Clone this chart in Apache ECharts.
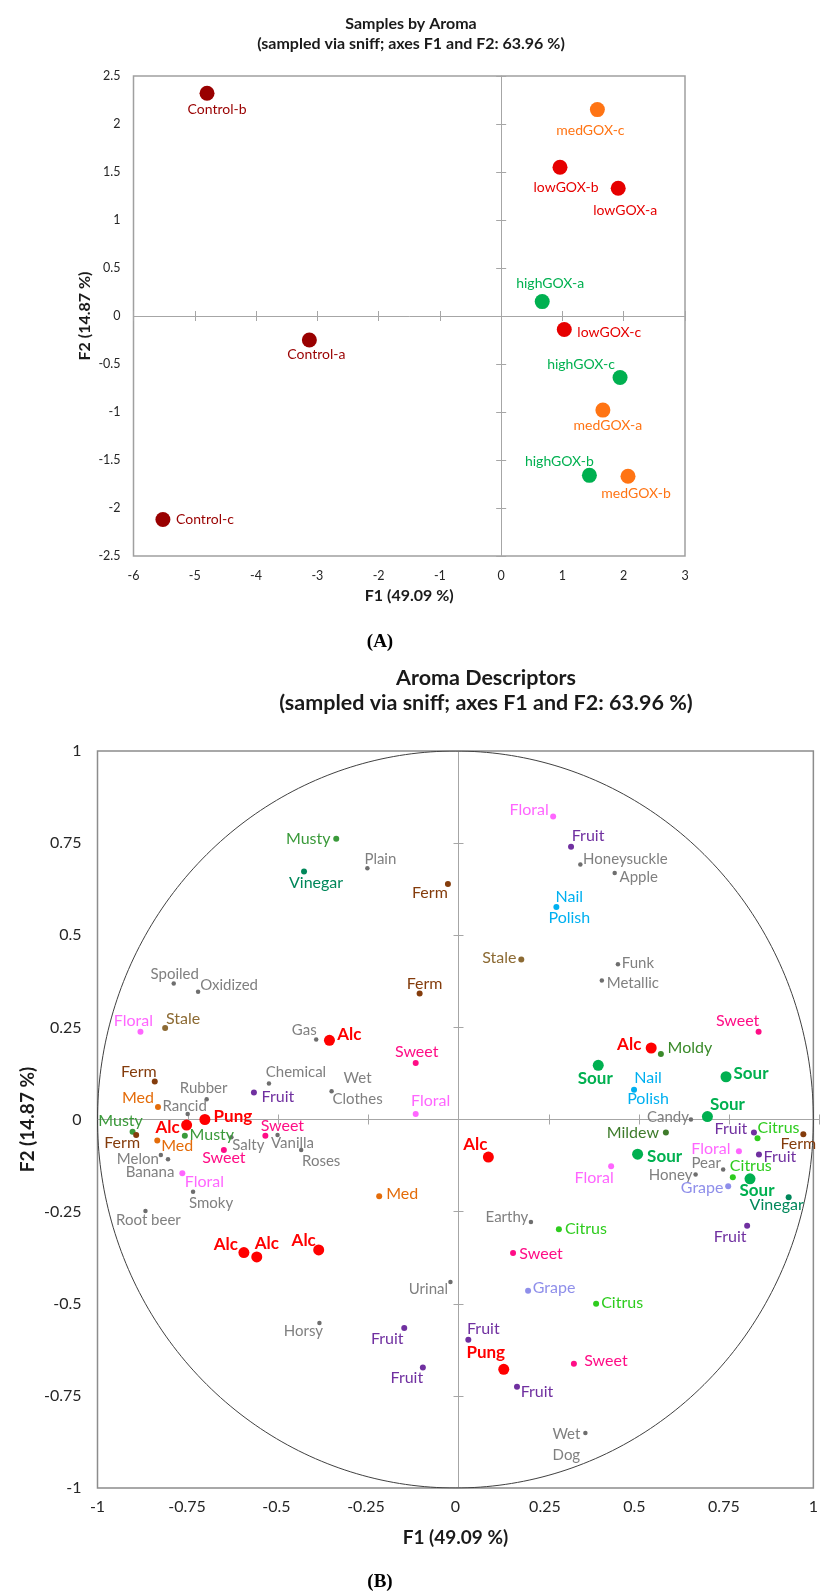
<!DOCTYPE html>
<html>
<head>
<meta charset="utf-8">
<title>Samples by Aroma / Aroma Descriptors</title>
<script src="https://cdn.jsdelivr.net/npm/echarts@6/dist/echarts.min.js"></script>
<style>
html, body { margin: 0; padding: 0; background: #fff; }
#chart { width: 821px; height: 1593px; }
</style>
</head>
<body>
<div id="chart"></div>
<script>
// ---------- (A) samples by aroma ----------
const sampleNames = ['Control-a', 'Control-b', 'Control-c', 'lowGOX-a', 'lowGOX-b', 'lowGOX-c',
    'medGOX-a', 'medGOX-b', 'medGOX-c', 'highGOX-a', 'highGOX-b', 'highGOX-c'];
const sampleF1 = [-3.13, -4.80, -5.52, 1.91, 0.96, 1.03, 1.66, 2.07, 1.57, 0.67, 1.44, 1.94];
const sampleF2 = [-0.25, 2.32, -2.12, 1.33, 1.55, -0.14, -0.98, -1.67, 2.15, 0.15, -1.66, -0.64];
const ticksA_F1 = [-6, -5, -4, -3, -2, -1, 0, 1, 2, 3];
const ticksA_F2 = [-2.5, -2, -1.5, -1, -0.5, 0, 0.5, 1, 1.5, 2, 2.5];

// ---------- (B) aroma descriptors ----------
const descNames = ['Musty', 'Plain', 'Vinegar', 'Ferm', 'Spoiled', 'Oxidized', 'Ferm', 'Floral', 'Stale', 'Gas', 'Alc',
    'Floral', 'Fruit', 'Honeysuckle', 'Apple', 'Nail Polish', 'Stale', 'Funk', 'Metallic', 'Sweet', 'Alc', 'Moldy',
    'Sweet', 'Ferm', 'Chemical', 'Wet Clothes', 'Rubber', 'Fruit', 'Med', 'Rancid', 'Floral', 'Pung', 'Alc', 'Musty',
    'Ferm', 'Musty', 'Sweet', 'Vanilla', 'Salty', 'Med', 'Roses', 'Sweet', 'Melon', 'Banana', 'Floral', 'Smoky', 'Med',
    'Root beer', 'Alc', 'Alc', 'Alc', 'Urinal',
    'Sour', 'Nail Polish', 'Sour', 'Sour', 'Candy', 'Mildew', 'Fruit', 'Citrus', 'Ferm', 'Alc', 'Sour', 'Floral', 'Fruit',
    'Floral', 'Pear', 'Citrus', 'Sour', 'Honey', 'Grape', 'Vinegar', 'Fruit', 'Earthy', 'Citrus', 'Sweet', 'Grape',
    'Citrus', 'Horsy', 'Fruit', 'Fruit', 'Pung', 'Sweet', 'Fruit', 'Fruit', 'Wet Dog'];
const descF1 = [-0.333, -0.246, -0.423, -0.021, -0.787, -0.719, -0.100, -0.880, -0.811, -0.389, -0.352,
    0.273, 0.323, 0.349, 0.445, 0.282, 0.184, 0.454, 0.409, 0.847, 0.547, 0.574,
    -0.111, -0.840, -0.521, -0.346, -0.695, -0.563, -0.831, -0.748, -0.111, -0.700, -0.751, -0.902,
    -0.892, -0.756, -0.531, -0.497, -0.626, -0.833, -0.431, -0.647, -0.823, -0.803, -0.763, -0.733, -0.213,
    -0.866, -0.591, -0.555, -0.382, -0.014,
    0.399, 0.499, 0.756, 0.704, 0.658, 0.588, 0.834, 0.844, 0.972, 0.092, 0.509, 0.792, 0.848,
    0.435, 0.748, 0.775, 0.823, 0.671, 0.762, 0.931, 0.815, 0.211, 0.289, 0.161, 0.203,
    0.393, -0.380, -0.143, 0.036, 0.135, 0.331, -0.091, 0.172, 0.363];
const descF2 = [0.762, 0.682, 0.673, 0.639, 0.369, 0.347, 0.342, 0.238, 0.248, 0.217, 0.215,
    0.822, 0.740, 0.692, 0.669, 0.577, 0.434, 0.421, 0.377, 0.238, 0.194, 0.178,
    0.153, 0.103, 0.098, 0.077, 0.055, 0.073, 0.034, 0.015, 0.015, 0.000, -0.015, -0.033,
    -0.042, -0.044, -0.044, -0.042, -0.048, -0.057, -0.083, -0.083, -0.096, -0.108, -0.146, -0.196, -0.208,
    -0.248, -0.361, -0.373, -0.354, -0.441,
    0.147, 0.081, 0.116, 0.008, 0.000, -0.035, -0.035, -0.051, -0.040, -0.102, -0.094, -0.086, -0.095,
    -0.127, -0.136, -0.157, -0.161, -0.149, -0.181, -0.211, -0.288, -0.278, -0.298, -0.362, -0.465,
    -0.500, -0.552, -0.566, -0.598, -0.678, -0.663, -0.673, -0.725, -0.851];
const ticksB = [-1, -0.75, -0.5, -0.25, 0, 0.25, 0.5, 0.75, 1];

// ---------- styles ----------
const FONT = 'Lato, "Open Sans", sans-serif';
const groupColor = { Control: '#990000', lowGOX: '#E60000', medGOX: '#FF7414', highGOX: '#00B050' };
// label centre offset from its dot, px
const sampleLabelOffset = [[7, 14], [10, 16], [42, 0], [7, 22], [6, 20], [45, 3],
    [5, 15], [8, 17], [-7, 21], [8, -18], [-30, -14], [-39, -13]];

const descStyle = {
    'Alc': { color: '#FF0000', size: 11, bold: true },
    'Pung': { color: '#FF0000', size: 11, bold: true },
    'Sour': { color: '#00B050', size: 11, bold: true },
    'Sweet': { color: '#FF0D86' },
    'Floral': { color: '#FF66FF' },
    'Fruit': { color: '#7030A0' },
    'Citrus': { color: '#2ECC1E' },
    'Grape': { color: '#8F8FEA' },
    'Ferm': { color: '#843C0C' },
    'Med': { color: '#E46C0A' },
    'Stale': { color: '#8C6A33' },
    'Musty': { color: '#3A9A3A' },
    'Moldy': { color: '#3A8A2A' },
    'Mildew': { color: '#3E7B2B' },
    'Vinegar': { color: '#00875A' },
    'Nail Polish': { color: '#00B0F0' }
};
const otherStyle = { color: '#808080', dot: '#6E6E6E', size: 4.5, font: 15 };
const twoLine = ['Nail Polish', 'Wet Clothes', 'Wet Dog'];
const descLabelOffset = [[-28, 0], [13, -9], [12, 11], [-18, 9], [1, -9], [31, -6], [5, -10], [-7, -11], [18, -9], [-12, -9], [20, -6],
    [-24, -7], [17, -11], [45, -5], [24, 4], [13, 0], [-22, -2], [20, -1], [31, 3], [-21, -11], [-22, -3], [29, -6],
    [1, -11], [-16, -10], [27, -11], [26, -2], [-3, -11], [24, 4], [-20, -9], [-3, -8], [15, -13], [28, -3], [-19, 2], [-12, -11],
    [-14, 8], [27, -1], [17, -10], [15, 8], [17, 8], [20, 5], [20, 11], [0, 8], [-23, 4], [-18, 13], [22, 9], [18, 11], [23, -2],
    [3, 9], [-18, -8], [10, -13], [-15, -9], [-22, 7],
    [-3, 13], [14, -1], [25, -3], [20, -12], [-23, -2], [-33, 0], [-23, -4], [21, -10], [-5, 10], [-13, -13], [27, 2], [-28, -2], [21, 2],
    [-17, 12], [-17, -6], [18, -12], [7, 12], [-25, 1], [-26, 2], [-12, 8], [-17, 11], [-24, -5], [27, 0], [28, 1], [26, -3],
    [26, -1], [-16, 8], [-17, 11], [15, -11], [-18, -17], [32, -3], [-16, 10], [20, 5], [-19, 12]];

const rectA = { left: 133.5, top: 76, width: 551.5, height: 480 };
const rectB = { left: 97.5, top: 751, width: 722, height: 737 };

// three stacked grids per panel: labelled frame, zero lines with outer ticks, inner ticks
function frame(g, rect, xt, yt, o) {
    const grids = [
        Object.assign({ show: true, borderColor: o.border, borderWidth: o.borderWidth }, rect),
        Object.assign({}, rect),
        Object.assign({}, rect)
    ];
    const range = t => ({ type: 'value', min: t[0], max: t[t.length - 1], interval: t[1] - t[0], splitLine: { show: false } });
    const lbl = { fontSize: o.tickFont, color: '#262626', fontFamily: FONT };
    const nameStyle = { fontSize: o.nameFont, fontWeight: 'bold', color: '#1a1a1a', fontFamily: FONT };
    const xAxis = [], yAxis = [];
    xAxis.push(Object.assign(range(xt), {
        gridIndex: g, position: 'bottom', axisLine: { show: false, onZero: false }, axisTick: { show: false },
        axisLabel: Object.assign({ margin: o.xMargin }, lbl),
        name: 'F1 (49.09 %)', nameLocation: 'middle', nameGap: o.xNameGap, nameTextStyle: nameStyle
    }));
    yAxis.push(Object.assign(range(yt), {
        gridIndex: g, position: 'left', axisLine: { show: false, onZero: false }, axisTick: { show: false },
        axisLabel: Object.assign({ margin: o.yMargin }, lbl),
        name: 'F2 (14.87 %)', nameLocation: 'middle', nameGap: o.yNameGap, nameMoveOverlap: false,
        nameTextStyle: nameStyle
    }));
    [1, 2].forEach(k => {
        const inside = k === 2;
        const zero = {
            gridIndex: g + k, axisLabel: { show: false },
            axisLine: { show: true, onZero: true, lineStyle: { color: o.zero, width: 1, opacity: inside ? 0 : 1 } },
            axisTick: { show: true, inside: inside, length: 5, lineStyle: { color: o.zero, width: 1 } }
        };
        xAxis.push(Object.assign(range(xt), { position: 'bottom' }, zero));
        yAxis.push(Object.assign(range(yt), { position: 'left' }, zero));
    });
    return { grids, xAxis, yAxis };
}

const fA = frame(0, rectA, ticksA_F1, ticksA_F2, {
    border: '#A0A0A0', borderWidth: 1.5, zero: '#A6A6A6', tickFont: 12.5, nameFont: 16,
    xMargin: 13, yMargin: 13, xNameGap: 32, yNameGap: 41
});
const fB = frame(3, rectB, ticksB, ticksB, {
    border: '#8C8C8C', borderWidth: 1.5, zero: '#A6A6A6', tickFont: 16, nameFont: 19,
    xMargin: 11, yMargin: 16, xNameGap: 40, yNameGap: 60
});

const sampleData = sampleNames.map((n, i) => {
    const c = groupColor[n.split('-')[0]];
    return {
        name: n, value: [sampleF1[i], sampleF2[i]],
        itemStyle: { color: c, opacity: 1 },
        label: { show: true, formatter: n, position: 'inside', offset: sampleLabelOffset[i],
            color: c, fontSize: 14, fontFamily: FONT }
    };
});

const descData = descNames.map((n, i) => {
    const s = descStyle[n];
    const text = twoLine.indexOf(n) >= 0 ? n.replace(' ', '\n') : n;
    return {
        name: n, value: [descF1[i], descF2[i]],
        symbolSize: s ? (s.size || 6) : otherStyle.size,
        itemStyle: { color: s ? s.color : otherStyle.dot, opacity: 1 },
        label: { show: true, formatter: text, position: 'inside', offset: descLabelOffset[i],
            color: s ? s.color : otherStyle.color,
            fontSize: s ? (s.bold ? 17 : 16) : otherStyle.font,
            fontWeight: s && s.bold ? 'bold' : 'normal',
            lineHeight: 21, fontFamily: FONT }
    };
});

// unit correlation circle
const circle = [];
for (let a = 0; a <= 360; a += 1) {
    circle.push([Math.cos(a * Math.PI / 180), Math.sin(a * Math.PI / 180)]);
}

const chart = echarts.init(document.getElementById('chart'));
const titleText = { fontWeight: 'bold', color: '#1a1a1a', fontFamily: FONT };
const panelTag = { fontSize: 19, lineHeight: 22, fontWeight: 'bold', color: '#000', fontFamily: '"Liberation Serif", serif' };
chart.setOption({
    animation: false,
    backgroundColor: '#fff',
    title: [
        { text: 'Samples by Aroma\n(sampled via sniff; axes F1 and F2: 63.96 %)', left: 411, top: 14, padding: 0,
            textAlign: 'center', textStyle: Object.assign({ fontSize: 16, lineHeight: 20 }, titleText) },
        { text: '(A)', left: 380, top: 631, padding: 0, textAlign: 'center', textStyle: panelTag },
        { text: 'Aroma Descriptors\n(sampled via sniff; axes F1 and F2: 63.96 %)', left: 486, top: 666, padding: 0,
            textAlign: 'center', textStyle: Object.assign({ fontSize: 21.5, lineHeight: 25 }, titleText) },
        { text: '(B)', left: 380, top: 1571, padding: 0, textAlign: 'center', textStyle: panelTag }
    ],
    grid: fA.grids.concat(fB.grids),
    xAxis: fA.xAxis.concat(fB.xAxis),
    yAxis: fA.yAxis.concat(fB.yAxis),
    series: [
        { type: 'scatter', xAxisIndex: 0, yAxisIndex: 0, symbolSize: 15, data: sampleData, z: 3 },
        { type: 'line', xAxisIndex: 3, yAxisIndex: 3, data: circle, showSymbol: false, silent: true,
            lineStyle: { color: '#404040', width: 1 }, z: 1 },
        { type: 'scatter', xAxisIndex: 3, yAxisIndex: 3, data: descData, z: 3 }
    ]
});
window.addEventListener('resize', function () {
    chart.resize();
});
</script>
</body>
</html>
